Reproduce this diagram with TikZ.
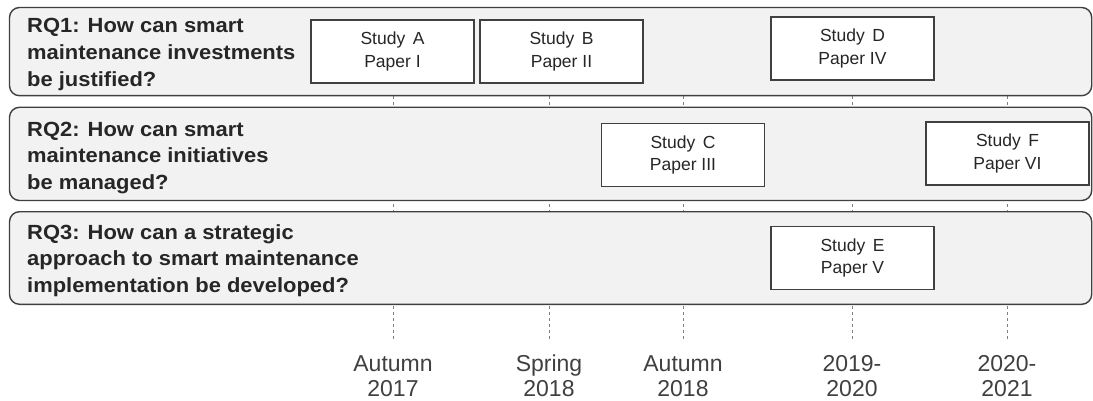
\documentclass[tikz,border=0pt]{standalone}
\usepackage{fontspec}
\setmainfont{Liberation Sans}
\newfontfamily\rqfont{Liberation Sans}[FakeStretch=1.07]
\definecolor{bandfill}{HTML}{F2F2F2}
\definecolor{edge}{HTML}{404040}
\definecolor{txt}{HTML}{262626}
\definecolor{datetxt}{HTML}{404040}
\definecolor{dash}{HTML}{7F7F7F}
\begin{document}
\begin{tikzpicture}[x=1pt,y=-1pt,
  band/.style={draw=edge,fill=bandfill,line width=1.4pt,rounded corners=10pt},
  rqtext/.style={anchor=north west,inner sep=0pt,align=left,text=txt,
    font=\rqfont\fontsize{20.5}{26.7}\selectfont\bfseries},
  study/.style={draw=edge,fill=white,line width=1.4pt,minimum width=163pt,minimum height=63pt,
    inner sep=0pt,align=center,text=txt,font=\fontsize{17.5}{22.5}\selectfont},
  datelabel/.style={anchor=north,inner sep=0pt,align=center,text=datetxt,
    font=\fontsize{23}{25}\selectfont},
  tick/.style={draw=dash,dashed,line width=0.6pt,dash pattern=on 3pt off 3pt}]
\useasboundingbox (0,0) rectangle (1093,401);
% timeline coordinates
\coordinate (t1) at (393,96);
\coordinate (t2) at (549,96);
\coordinate (t3) at (683,96);
\coordinate (t4) at (852,96);
\coordinate (t5) at (1007,96);
\coordinate (b1) at (393,341);
\coordinate (b2) at (549,341);
\coordinate (b3) at (683,341);
\coordinate (b4) at (852,341);
\coordinate (b5) at (1007,341);
\foreach \i in {1,...,5} \draw[tick] (t\i) -- (b\i);
% bands
\draw[band] (9.5,7.5) rectangle (1091.7,95.7);
\draw[band] (9.5,107.3) rectangle (1091.7,200.5);
\draw[band] (9.5,211.7) rectangle (1091.7,304.3);
% RQ texts
\node[rqtext] (rq1) at (27,18.3) {RQ1: How can smart\\maintenance investments\\be justified?};
\node[rqtext] (rq2) at (27,121.5) {RQ2: How can smart\\maintenance initiatives\\be managed?};
\node[rqtext] (rq3) at (27,224) {RQ3: How can a strategic\\approach to smart maintenance\\implementation be developed?};
% studies
\node[study] (sa) at (392.5,51.5) {Study\hspace{0.15em} A\\Paper I};
\node[study] (sb) at (561.5,51.5) {Study\hspace{0.15em} B\\Paper II};
\node[study] (sd) at (852.5,48.5) {Study\hspace{0.15em} D\\Paper IV};
\node[study] (sc) at (683,155) {Study\hspace{0.15em} C\\Paper III};
\node[study] (sf) at (1007.5,153.5) {Study\hspace{0.15em} F\\Paper VI};
\node[study] (se) at (852.5,258) {Study\hspace{0.15em} E\\Paper V};
% dates
\node[datelabel] (d1) at (393,355) {Autumn\\2017};
\node[datelabel] (d2) at (549,355) {Spring\\2018};
\node[datelabel] (d3) at (683,355) {Autumn\\2018};
\node[datelabel] (d4) at (852,355) {2019-\\2020};
\node[datelabel] (d5) at (1007,355) {2020-\\2021};
\end{tikzpicture}
\end{document}
